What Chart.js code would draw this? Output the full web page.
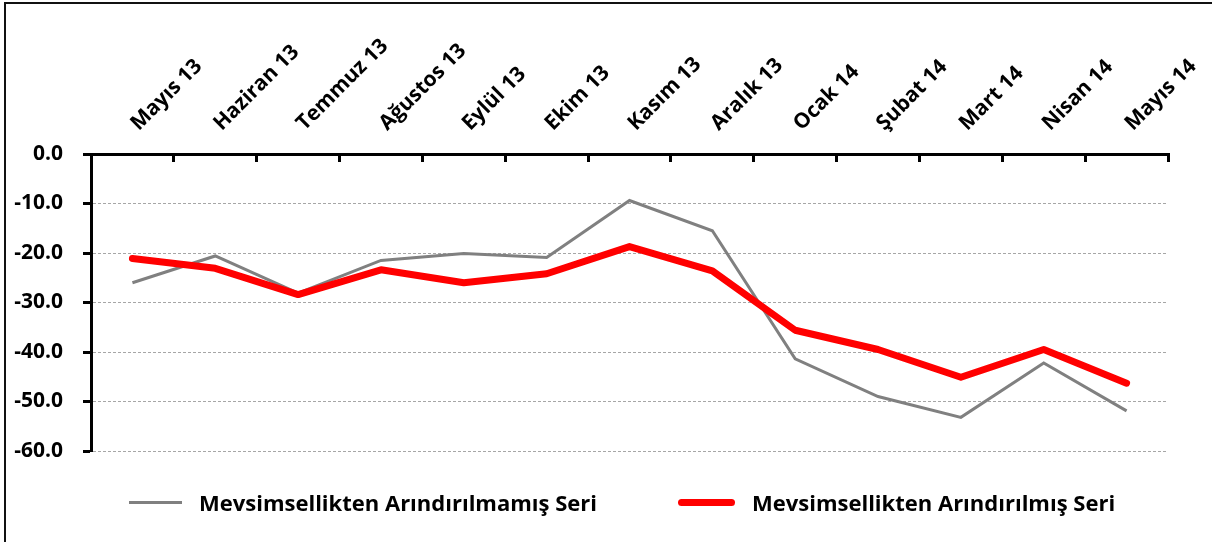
<!DOCTYPE html>
<html>
<head>
<meta charset="utf-8">
<script src="https://cdn.jsdelivr.net/npm/chart.js@4"></script>
<style>
  html, body { margin: 0; padding: 0; background: #fff; overflow: hidden; }
  #wrap { position: relative; width: 1212px; height: 542px; }
  #frame { position: absolute; left: 4px; top: 2px; width: 1230px; height: 560px; border: 2px solid #111; }
  canvas { position: absolute; left: 0; top: 0; }
  .leg { position: absolute; top: 487px; display: flex; align-items: center; font: bold 22px "Open Sans", sans-serif; color: #000; white-space: nowrap; }
  .leg span.ln { display: inline-block; margin-right: 17px; }
</style>
</head>
<body>
<div id="wrap">
  <div id="frame"></div>
  <canvas id="chart" width="1212" height="542"></canvas>
  <div id="legend"></div>
</div>
<script>
// aylar
const months = ['Mayıs 13', 'Haziran 13', 'Temmuz 13', 'Ağustos 13', 'Eylül 13', 'Ekim 13',
  'Kasım 13', 'Aralık 13', 'Ocak 14', 'Şubat 14', 'Mart 14', 'Nisan 14', 'Mayıs 14'];

// Mevsimsellikten Arındırılmamış Seri
const rawSeries = [-26.0, -20.6, -28.1, -21.5, -20.1, -20.9, -9.4, -15.5, -41.4, -49.0, -53.2, -42.2, -51.9];
// Mevsimsellikten Arındırılmış Seri
const adjSeries = [-21.1, -23.1, -28.4, -23.4, -26.0, -24.2, -18.7, -23.6, -35.6, -39.5, -45.1, -39.5, -46.3];

const yTicks = [0, -10, -20, -30, -40, -50, -60];

const fontTick = { family: 'Open Sans', weight: 'bold', size: 21 };

const chart = new Chart(document.getElementById('chart'), {
  type: 'line',
  data: {
    labels: months,
    datasets: [
      {
        label: 'Mevsimsellikten Arındırılmamış Seri',
        data: rawSeries,
        borderColor: '#808080',
        borderWidth: 3,
        pointRadius: 0,
        tension: 0,
        order: 1
      },
      {
        label: 'Mevsimsellikten Arındırılmış Seri',
        data: adjSeries,
        borderColor: '#ff0000',
        borderWidth: 7,
        borderCapStyle: 'round',
        borderJoinStyle: 'round',
        pointRadius: 0,
        tension: 0,
        order: 0
      }
    ]
  },
  options: {
    responsive: false,
    animation: false,
    devicePixelRatio: 1,
    layout: { padding: { left: 0, right: 44, top: 0, bottom: 91 } },
    plugins: { legend: { display: false }, tooltip: { enabled: false } },
    scales: {
      x: {
        type: 'category',
        position: 'top',
        offset: true,
        grid: {
          offset: true,
          drawOnChartArea: false,
          tickLength: -8,
          tickWidth: 3,
          tickColor: '#000'
        },
        border: { display: true, color: '#000', width: 3 },
        ticks: {
          color: '#000',
          font: fontTick,
          minRotation: 45,
          maxRotation: 45,
          autoSkip: false,
          padding: 26,
          labelOffset: 20
        },
        afterFit: (s) => { s.height = 154; s.paddingLeft = 0; s.paddingRight = 0; }
      },
      y: {
        min: Math.min(...yTicks),
        max: Math.max(...yTicks),
        afterBuildTicks: (s) => { s.ticks = yTicks.map(v => ({ value: v })); },
        grid: {
          color: (c) => c.tick && c.tick.value === 0 ? 'rgba(0,0,0,0)' : '#a6a6a6',
          lineWidth: 1,
          tickLength: 8,
          tickWidth: 3,
          tickColor: '#000'
        },
        border: { display: true, color: '#000', width: 3, dash: [3, 2] },
        ticks: {
          color: '#000',
          font: fontTick,
          padding: 20,
          callback: (v) => Number(v).toFixed(1)
        },
        afterFit: (s) => { s.width = 91; }
      }
    }
  }
});

// legend from the datasets
const legendPos = [129, 678];
const legendLen = [53, 57];
const legend = document.getElementById('legend');
chart.data.datasets.forEach((ds, i) => {
  const item = document.createElement('div');
  item.className = 'leg';
  item.style.left = legendPos[i] + 'px';
  const ln = document.createElement('span');
  ln.className = 'ln';
  ln.style.width = legendLen[i] + 'px';
  ln.style.height = ds.borderWidth + 'px';
  ln.style.background = ds.borderColor;
  if (ds.borderCapStyle === 'round') {
    ln.style.borderRadius = ds.borderWidth + 'px';
  }
  const tx = document.createElement('span');
  tx.textContent = ds.label;
  item.appendChild(ln);
  item.appendChild(tx);
  legend.appendChild(item);
});
</script>
</body>
</html>
